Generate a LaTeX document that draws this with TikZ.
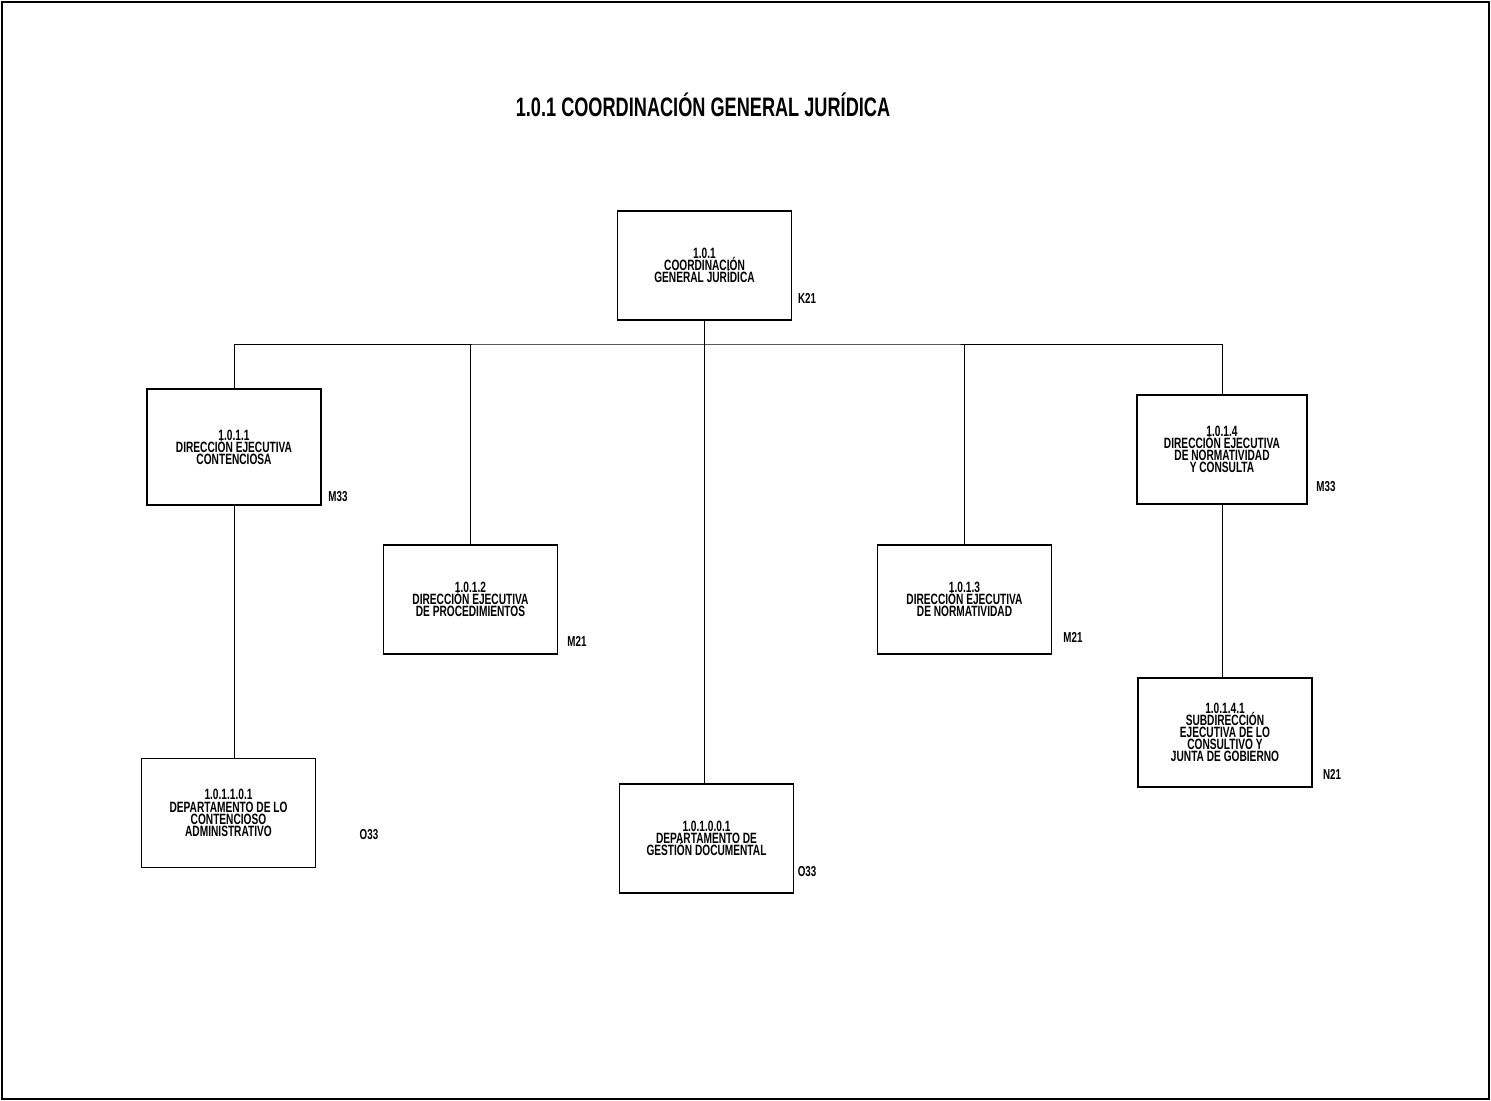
\documentclass[tikz,border=0pt]{standalone}
\usepackage{fontspec}
\setmainfont{Liberation Sans}[FakeStretch=0.68]
\lineskiplimit=-10pt
\lineskip=0pt

\tikzset{
	unidad/.style={draw, thick, minimum width=3.48cm, minimum height=2.18cm, align=center, inner sep=1pt, font=\fontsize{8.5}{6.9}\selectfont\bfseries},
	nivel/.style={font=\fontsize{8.2}{8}\selectfont\bfseries},
}

\begin{document}
\begin{tikzpicture}[x=0.02cm, y=-0.02cm]
	\useasboundingbox (0,0) rectangle (1491,1101);
	\draw [line width=1.2pt] (2,2) rectangle (1489,1099);

	\node at (703,105) [font=\fontsize{15.2}{16}\selectfont\bfseries] (titulo) {1.0.1 COORDINACIÓN GENERAL JURÍDICA};

	\node at (704.5,265.5) [unidad] (cgj) {1.0.1\\COORDINACIÓN\\GENERAL JURÍDICA};
	\node at (234,447) [unidad, minimum height=2.32cm] (dec) {1.0.1.1\\DIRECCIÓN EJECUTIVA\\CONTENCIOSA};
	\node at (470.5,599.5) [unidad] (dep) {1.0.1.2\\DIRECCIÓN EJECUTIVA\\DE PROCEDIMIENTOS};
	\node at (964.5,599.5) [unidad] (den) {1.0.1.3\\DIRECCIÓN EJECUTIVA\\DE NORMATIVIDAD};
	\node at (1222,449.5) [unidad, minimum width=3.4cm] (denc) {1.0.1.4\\DIRECCIÓN EJECUTIVA\\DE NORMATIVIDAD\\Y CONSULTA};
	\node at (1225,732.5) [unidad] (sec) {1.0.1.4.1\\SUBDIRECCIÓN\\EJECUTIVA DE LO\\CONSULTIVO Y\\JUNTA DE GOBIERNO};
	\node at (228.5,813) [unidad] (dca) {1.0.1.1.0.1\\DEPARTAMENTO DE LO\\CONTENCIOSO\\ADMINISTRATIVO};
	\node at (706.5,838.5) [unidad] (dgd) {1.0.1.0.0.1\\DEPARTAMENTO DE\\GESTIÓN DOCUMENTAL};

	\node at (807,298) [nivel] (kcgj) {K21};
	\node at (338,497) [nivel] (mdec) {M33};
	\node at (577,641) [nivel] (mdep) {M21};
	\node at (1073,637) [nivel] (mden) {M21};
	\node at (1326,487) [nivel] (mdenc) {M33};
	\node at (1332,774) [nivel] (nsec) {N21};
	\node at (369,835) [nivel] (odca) {O33};
	\node at (807,872) [nivel] (odgd) {O33};

	\coordinate (bus) at (704,344);
	\draw (cgj.south) -- (cgj.south |- dgd.north);
	\draw (dec.north) |- (bus) -| (denc.north);
	\draw (dep.north) -- (dep.north |- bus);
	\draw (den.north) -- (den.north |- bus);
	\draw (dec.south) -- (dec.south |- dca.north);
	\draw (denc.south) -- (denc.south |- sec.north);
\end{tikzpicture}
\end{document}
